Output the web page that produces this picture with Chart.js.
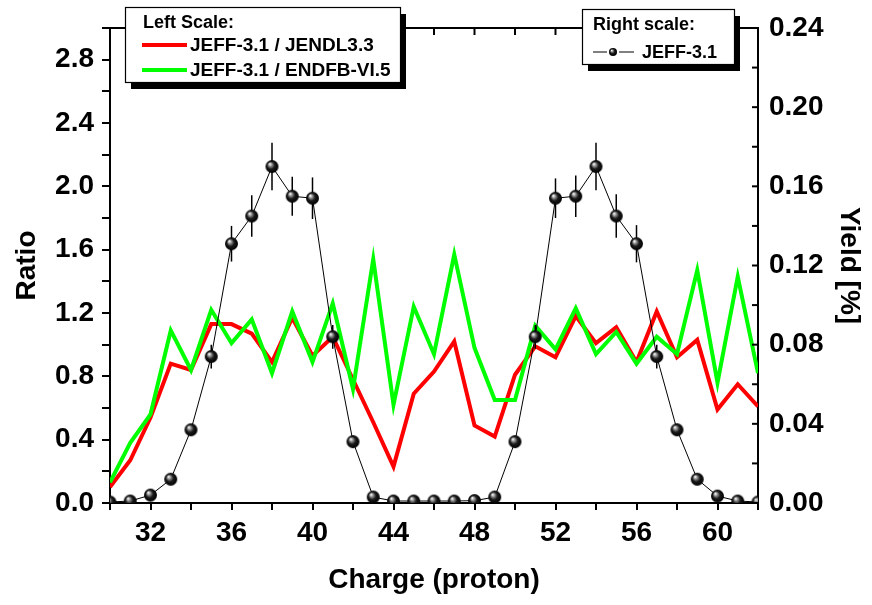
<!DOCTYPE html>
<html>
<head>
<meta charset="utf-8">
<script src="https://cdn.jsdelivr.net/npm/chart.js@4"></script>
<style>
  html, body { margin: 0; padding: 0; background: #fff; }
  #wrap { width: 872px; height: 605px; }
</style>
</head>
<body>
<div id="wrap"><canvas id="chart" width="872" height="605"></canvas></div>
<script>
// Charge (Z) on the x axis
const charge = [30,31,32,33,34,35,36,37,38,39,40,41,42,43,44,45,46,47,48,49,50,51,52,53,54,55,56,57,58,59,60,61,62];

// left scale: ratios
const ratioJendl = [0.10,0.27,0.54,0.88,0.84,1.13,1.13,1.07,0.89,1.17,0.93,1.05,0.78,0.51,0.23,0.69,0.83,
                    1.02,0.49,0.42,0.81,0.99,0.92,1.18,1.01,1.11,0.89,1.21,0.92,1.03,0.59,0.75,0.61];
const ratioEndf  = [0.13,0.38,0.56,1.09,0.84,1.22,1.01,1.16,0.82,1.21,0.89,1.26,0.72,1.54,0.62,1.24,0.94,
                    1.57,0.98,0.65,0.65,1.12,0.97,1.23,0.94,1.08,0.88,1.05,0.94,1.47,0.76,1.43,0.82];

// right scale: JEFF-3.1 yield [%] and its error
const yieldPct = [0.0005,0.001,0.004,0.012,0.037,0.074,0.131,0.145,0.170,0.155,0.154,0.084,0.031,0.003,0.001,0.001,0.001,
                  0.001,0.0012,0.003,0.031,0.084,0.154,0.155,0.170,0.145,0.131,0.074,0.037,0.012,0.0035,0.001,0.0005];
const yieldErr = [0,0,0,0,0,0.006,0.009,0.0105,0.012,0.0098,0.0105,0.006,0.003,0,0,0,0,
                  0,0,0,0.003,0.006,0.010,0.0105,0.012,0.011,0.0094,0.006,0.003,0,0,0,0];

const FONT = "'Liberation Sans', Arial, sans-serif";
Chart.defaults.font.family = FONT;
Chart.defaults.color = '#000';

// kleine schwarze Kugel als Marker
function makeBall(r) {
    const s = Math.ceil(r * 2) + 2;
    const c = document.createElement('canvas');
    c.width = s; c.height = s;
    const g = c.getContext('2d');
    const m = s / 2;
    const grad = g.createRadialGradient(m - r * 0.35, m - r * 0.4, r * 0.05, m, m, r);
    grad.addColorStop(0, '#ffffff');
    grad.addColorStop(0.22, '#9a9a9a');
    grad.addColorStop(0.55, '#1a1a1a');
    grad.addColorStop(1, '#000000');
    g.fillStyle = grad;
    g.beginPath();
    g.arc(m, m, r, 0, Math.PI * 2);
    g.fill();
    return c;
}
const ball = makeBall(6.5);
const smallBall = makeBall(4);

const pts = (ys) => charge.map((c, i) => ({ x: c, y: ys[i] }));

// Fehlerbalken unter den Kugeln
const errorBars = {
    id: 'errorBars',
    beforeDatasetDraw(chart, args) {
        if (args.index !== 2) return;
        const ctx = chart.ctx;
        const ys = chart.scales.y2;
        ctx.save();
        ctx.strokeStyle = '#000';
        ctx.lineWidth = 1.5;
        args.meta.data.forEach((p, i) => {
            const e = yieldErr[i];
            if (!e) return;
            ctx.beginPath();
            ctx.moveTo(p.x, ys.getPixelForValue(yieldPct[i] + e));
            ctx.lineTo(p.x, ys.getPixelForValue(yieldPct[i] - e));
            ctx.stroke();
        });
        ctx.restore();
    }
};

// oberer Rahmen + Ticks nach innen (oben und rechts)
const frame = {
    id: 'frame',
    afterDraw(chart) {
        const { ctx, chartArea: a } = chart;
        const xs = chart.scales.x, ys = chart.scales.y2;
        ctx.save();
        ctx.strokeStyle = '#000';
        ctx.lineWidth = 2;
        ctx.beginPath();
        ctx.moveTo(a.left - 1, a.top);
        ctx.lineTo(a.right + 1, a.top);
        ctx.stroke();
        xs.ticks.forEach(t => {
            const px = xs.getPixelForValue(t.value);
            ctx.beginPath();
            ctx.moveTo(px, a.top);
            ctx.lineTo(px, a.top + 7);
            ctx.stroke();
        });
        ys.ticks.forEach(t => {
            const py = ys.getPixelForValue(t.value);
            ctx.beginPath();
            ctx.moveTo(a.right, py);
            ctx.lineTo(a.right - 6, py);
            ctx.stroke();
        });
        ctx.restore();
    }
};

// die beiden Legendenkästen mit Schatten
function box(ctx, x, y, w, h) {
    ctx.fillStyle = '#000';
    ctx.fillRect(x + 6, y + 7, w, h);
    ctx.fillStyle = '#fff';
    ctx.fillRect(x, y, w, h);
    ctx.strokeStyle = '#000';
    ctx.lineWidth = 1.2;
    ctx.strokeRect(x + 0.5, y + 0.5, w, h);
}
const legends = {
    id: 'legends',
    afterDraw(chart) {
        const ctx = chart.ctx;
        ctx.save();
        ctx.textBaseline = 'middle';
        ctx.textAlign = 'left';

        box(ctx, 125, 7, 275, 75);
        ctx.fillStyle = '#000';
        ctx.font = 'bold 18px ' + FONT;
        ctx.fillText('Left Scale:', 143, 23);
        ctx.font = 'bold 19px ' + FONT;
        ctx.lineWidth = 4;
        ctx.strokeStyle = '#ff0000';
        ctx.beginPath(); ctx.moveTo(142, 45); ctx.lineTo(187, 45); ctx.stroke();
        ctx.fillText('JEFF-3.1 / JENDL3.3', 190, 46);
        ctx.strokeStyle = '#00ff00';
        ctx.beginPath(); ctx.moveTo(142, 70); ctx.lineTo(187, 70); ctx.stroke();
        ctx.fillText('JEFF-3.1 / ENDFB-VI.5', 190, 71);

        box(ctx, 582, 9, 152, 55);
        ctx.fillStyle = '#000';
        ctx.font = 'bold 18px ' + FONT;
        ctx.fillText('Right scale:', 593, 25);
        ctx.strokeStyle = '#000';
        ctx.lineWidth = 1;
        ctx.beginPath(); ctx.moveTo(593, 52); ctx.lineTo(607, 52); ctx.stroke();
        ctx.beginPath(); ctx.moveTo(619, 52); ctx.lineTo(634, 52); ctx.stroke();
        ctx.drawImage(smallBall, 613 - smallBall.width / 2, 52 - smallBall.height / 2);
        ctx.fillText('JEFF-3.1', 642, 53);
        ctx.restore();
    }
};

const tickFont = { size: 28, weight: 'bold' };
const titleFont = { size: 28, weight: 'bold' };

new Chart(document.getElementById('chart'), {
    type: 'line',
    data: {
        datasets: [
            {
                label: 'JEFF-3.1 / JENDL3.3',
                data: pts(ratioJendl),
                yAxisID: 'y',
                borderColor: '#ff0000',
                borderWidth: 4,
                pointRadius: 0,
                tension: 0,
                order: 2
            },
            {
                label: 'JEFF-3.1 / ENDFB-VI.5',
                data: pts(ratioEndf),
                yAxisID: 'y',
                borderColor: '#00ff00',
                borderWidth: 4,
                pointRadius: 0,
                tension: 0,
                order: 1
            },
            {
                label: 'JEFF-3.1',
                data: pts(yieldPct),
                yAxisID: 'y2',
                borderColor: '#000',
                borderWidth: 1,
                pointStyle: ball,
                pointRadius: 7,
                tension: 0,
                order: 0
            }
        ]
    },
    options: {
        responsive: false,
        animation: false,
        devicePixelRatio: 1,
        events: [],
        layout: { padding: { top: 28, left: 0, right: 0, bottom: 0 } },
        plugins: { legend: { display: false }, tooltip: { enabled: false } },
        scales: {
            x: {
                type: 'linear',
                position: 'bottom',
                min: 30, max: 62,
                afterFit: s => { s.height = 102; },
                ticks: {
                    stepSize: 2,
                    autoSkip: false,
                    maxRotation: 0,
                    padding: 6,
                    font: tickFont,
                    callback: v => (v % 4 === 0 ? String(v) : '')
                },
                grid: { drawOnChartArea: false, tickLength: 7, color: '#000', lineWidth: 2 },
                border: { color: '#000', width: 2 },
                title: { display: true, text: 'Charge (proton)', font: titleFont, padding: { top: 0, bottom: 8 } }
            },
            y: {
                position: 'left',
                min: 0, max: 3,
                afterFit: s => { s.width = 110; },
                ticks: {
                    stepSize: 0.2,
                    autoSkip: false,
                    padding: 8,
                    font: tickFont,
                    callback: v => (Math.round(v * 10) % 4 === 0 ? v.toFixed(1) : '')
                },
                grid: { drawOnChartArea: false, tickLength: 8, color: '#000', lineWidth: 2 },
                border: { color: '#000', width: 2 },
                title: { display: true, text: 'Ratio', font: titleFont, padding: { top: 10, bottom: 0 } }
            },
            y2: {
                position: 'right',
                min: 0, max: 0.24,
                afterFit: s => { s.width = 114; },
                ticks: {
                    stepSize: 0.02,
                    autoSkip: false,
                    padding: 11,
                    font: tickFont,
                    callback: v => (Math.round(v * 100) % 4 === 0 ? v.toFixed(2) : '')
                },
                grid: { drawOnChartArea: false, drawTicks: false },
                border: { color: '#000', width: 2 },
                title: { display: true, text: 'Yield [%]', font: titleFont, padding: { top: 6, bottom: 0 } }
            }
        }
    },
    plugins: [errorBars, frame, legends]
});
</script>
</body>
</html>
